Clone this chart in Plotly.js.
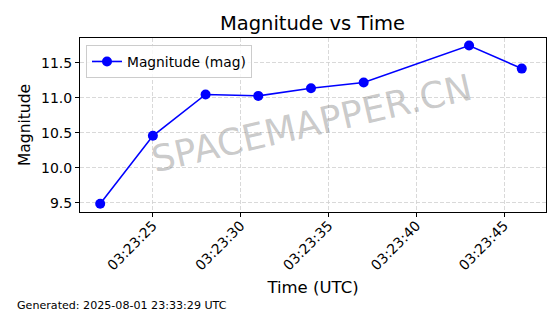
<!DOCTYPE html>
<html>
<head>
<meta charset="utf-8">
<script src="https://cdn.plot.ly/plotly-3.0.1.min.js"></script>
<style>html,body{margin:0;padding:0;background:#fff;}#chart{width:560px;height:314px;}</style>
</head>
<body>
<div id="chart"></div>
<script>
const times = ["2025-08-01 03:23:22","2025-08-01 03:23:25","2025-08-01 03:23:28","2025-08-01 03:23:31","2025-08-01 03:23:34","2025-08-01 03:23:37","2025-08-01 03:23:43","2025-08-01 03:23:46"];
const magnitudes = [9.49, 10.46, 11.05, 11.03, 11.14, 11.22, 11.75, 11.42];
const seriesName = "Magnitude (mag)";
const chartTitle = "Magnitude vs Time";
const xTitle = "Time (UTC)";
const yTitle = "Magnitude";
const watermark = "SPACEMAPPER.CN";
const footer = "Generated: 2025-08-01 23:33:29 UTC";

const font = "DejaVu Sans, sans-serif";
const trace = {
  x: times, y: magnitudes, name: seriesName, type: "scatter", mode: "lines+markers",
  line: {color: "#0000ff", width: 1.6},
  marker: {color: "#0000ff", size: 10}
};
const plotL = 80, plotR = 546, plotT = 38, plotB = 212;
const layout = {
  width: 560, height: 314,
  margin: {l: plotL, r: 560 - plotR, t: plotT, b: 314 - plotB},
  paper_bgcolor: "#fff", plot_bgcolor: "#fff",
  font: {family: font, color: "#000"},
  showlegend: true,
  title: {text: chartTitle, font: {size: 19.5, family: font}, x: 312.5/560, xanchor: "center", y: 1 - 23/314, yanchor: "middle", yref: "container"},
  xaxis: {
    type: "date", range: ["2025-08-01 03:23:20.85", "2025-08-01 03:23:47.38"],
    tickformat: "%H:%M:%S", dtick: 5000, tick0: "2025-08-01 03:23:25",
    tickangle: -45, tickfont: {size: 14}, ticks: "outside", ticklen: 4, tickcolor: "#000",
    ticklabelstandoff: -5,
    showline: true, linecolor: "#000", linewidth: 1, mirror: true,
    showgrid: true, gridcolor: "#d0d0d0", griddash: "4px,2px", gridwidth: 0.8, zeroline: false,
    title: {text: xTitle, font: {size: 16.5}, standoff: 9}
  },
  yaxis: {
    range: [9.371, 11.857], dtick: 0.5, tick0: 9.5, tickformat: ".1f",
    tickfont: {size: 14}, ticks: "outside", ticklen: 4, tickcolor: "#000",
    showline: true, linecolor: "#000", linewidth: 1, mirror: true,
    showgrid: true, gridcolor: "#d0d0d0", griddash: "4px,2px", gridwidth: 0.8, zeroline: false,
    title: {text: yTitle, font: {size: 15.5}, standoff: 6}
  },
  legend: {x: 6/466, y: 1 - 7/174, xanchor: "left", yanchor: "top", bgcolor: "rgba(255,255,255,0.8)", bordercolor: "#cccccc", borderwidth: 1, font: {size: 13.8}, itemwidth: 30},
  annotations: [
    {text: watermark, xref: "paper", yref: "paper", x: (312 - plotL) / (plotR - plotL), y: 1 - (124 - plotT) / (plotB - plotT),
     showarrow: false, textangle: -13,
     font: {size: 36.5, color: "rgba(128,128,128,0.42)", family: font}, xanchor: "center", yanchor: "middle"},
    {text: footer, xref: "paper", yref: "paper", x: (15 - plotL) / (plotR - plotL), y: -(305 - plotB) / (plotB - plotT),
     xanchor: "left", yanchor: "middle", showarrow: false, font: {size: 11.1, family: font}}
  ]
};
Plotly.newPlot("chart", [trace], layout, {displayModeBar: false, staticPlot: true});
</script>
</body>
</html>
